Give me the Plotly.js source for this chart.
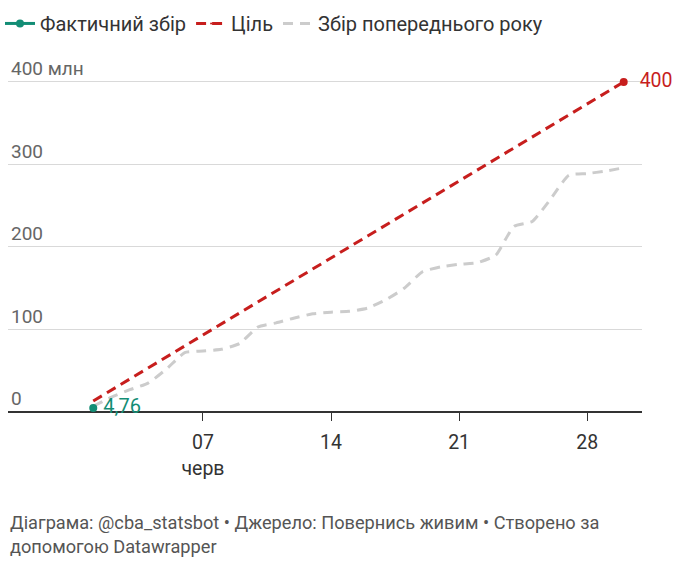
<!DOCTYPE html>
<html>
<head>
<meta charset="utf-8">
<script src="https://cdn.plot.ly/plotly-3.0.1.min.js"></script>
<style>
html,body{margin:0;padding:0;background:#fff;}
#chart{width:680px;height:564px;}
</style>
</head>
<body>
<div id="chart"></div>
<script>
// ---- data ----
const days = ['2024-06-01','2024-06-02','2024-06-03','2024-06-04','2024-06-05','2024-06-06','2024-06-07','2024-06-08','2024-06-09','2024-06-10',
  '2024-06-11','2024-06-12','2024-06-13','2024-06-14','2024-06-15','2024-06-16','2024-06-17','2024-06-18','2024-06-19','2024-06-20',
  '2024-06-21','2024-06-22','2024-06-23','2024-06-24','2024-06-25','2024-06-26','2024-06-27','2024-06-28','2024-06-29','2024-06-30'];
const actualDays = ['2024-06-01'];
const actualValues = [4.76];
const targetValues = [13.3,26.7,40,53.3,66.7,80,93.3,106.7,120,133.3,146.7,160,173.3,186.7,200,213.3,226.7,240,253.3,266.7,
  280,293.3,306.7,320,333.3,346.7,360,373.3,386.7,400];
const prevYearValues = [7,18,27,35,52,72,74,76,83,103,108,114,119,121,122,126,136,150,170,176,
  179,181,190,225,231,258,287,289,292,296];
const tickDates = ['2024-06-07','2024-06-14','2024-06-21','2024-06-28'];
const tickLabels = ['07<br>черв','14','21','28'];
const yTickVals = [0,100,200,300,400];
const yTickLabels = ['0','100','200','300','400 млн'];

const GREEN = '#138d75', RED = '#c71e1d', GREY = '#cccccc';
const FONT = 'Roboto, "Noto Sans", sans-serif';
const fmt = (v, pad) => pad + String(v).replace('.', ',');

const n = days.length;
const traces = [
  {
    name: 'Фактичний збір', x: actualDays, y: actualValues, type: 'scatter',
    mode: 'lines+markers+text',
    line: {color: GREEN, width: 3},
    marker: {color: GREEN, size: 8},
    text: actualValues.map(v => fmt(v, '\u2009')), textposition: 'middle right',
    textfont: {family: FONT, size: 20, color: GREEN},
    cliponaxis: false, hoverinfo: 'skip'
  },
  {
    name: 'Ціль', x: days, y: targetValues, type: 'scatter',
    mode: 'lines+markers+text',
    line: {color: RED, width: 3, dash: '10px,6px'},
    marker: {color: RED, opacity: 1, line: {width: 0}, size: targetValues.map((v, i) => i === n - 1 ? 8 : 0)},
    text: targetValues.map((v, i) => i === n - 1 ? fmt(v, '\u2002') : ''), textposition: 'middle right',
    textfont: {family: FONT, size: 19.5, color: RED},
    cliponaxis: false, hoverinfo: 'skip'
  },
  {
    name: 'Збір попереднього року', x: days, y: prevYearValues, type: 'scatter',
    mode: 'lines',
    line: {color: GREY, width: 3, dash: '10px,7px', shape: 'spline', smoothing: 0.5},
    hoverinfo: 'skip'
  }
];
// draw order: grey below, then red, then green on top
const data = [traces[2], traces[1], traces[0]];

const layout = {
  width: 680, height: 564,
  margin: {l: 8, r: 38, t: 46, b: 152},
  paper_bgcolor: '#fff', plot_bgcolor: '#fff',
  font: {family: FONT, size: 19, color: '#333'},
  showlegend: true,
  legend: {
    orientation: 'h', xref: 'container', yref: 'container', x: 0, y: 0.993,
    xanchor: 'left', yanchor: 'top', traceorder: 'reversed',
    font: {family: FONT, size: 20, color: '#333'}, itemwidth: 30
  },
  xaxis: {
    type: 'date', range: ['2024-05-27 08:10', '2024-07-01 00:00'],
    tickvals: tickDates, ticktext: tickLabels,
    ticks: 'outside', ticklen: 8, tickcolor: '#333', tickwidth: 1,
    ticklabelstandoff: 5,
    showgrid: false, zeroline: false, showline: false,
    tickfont: {family: FONT, size: 19.5, color: '#333'}, fixedrange: true
  },
  yaxis: {
    range: [0, 443.6], tickvals: yTickVals, ticktext: yTickLabels,
    ticklabelposition: 'inside top', ticks: '',
    showgrid: true, gridcolor: '#d9d9d9', gridwidth: 1,
    zeroline: true, zerolinecolor: '#333', zerolinewidth: 2,
    tickfont: {family: FONT, size: 19, color: '#666'}, fixedrange: true
  },
  annotations: [{
    xref: 'paper', yref: 'paper', x: 0, y: -0.269, xanchor: 'left', yanchor: 'top', align: 'left',
    showarrow: false,
    text: 'Діаграма: @cba_statsbot • Джерело: Повернись живим • Створено за<br>допомогою Datawrapper',
    font: {family: FONT, size: 18.2, color: '#555'}
  }]
};

Plotly.newPlot('chart', data, layout, {displayModeBar: false, staticPlot: true});
</script>
</body>
</html>
